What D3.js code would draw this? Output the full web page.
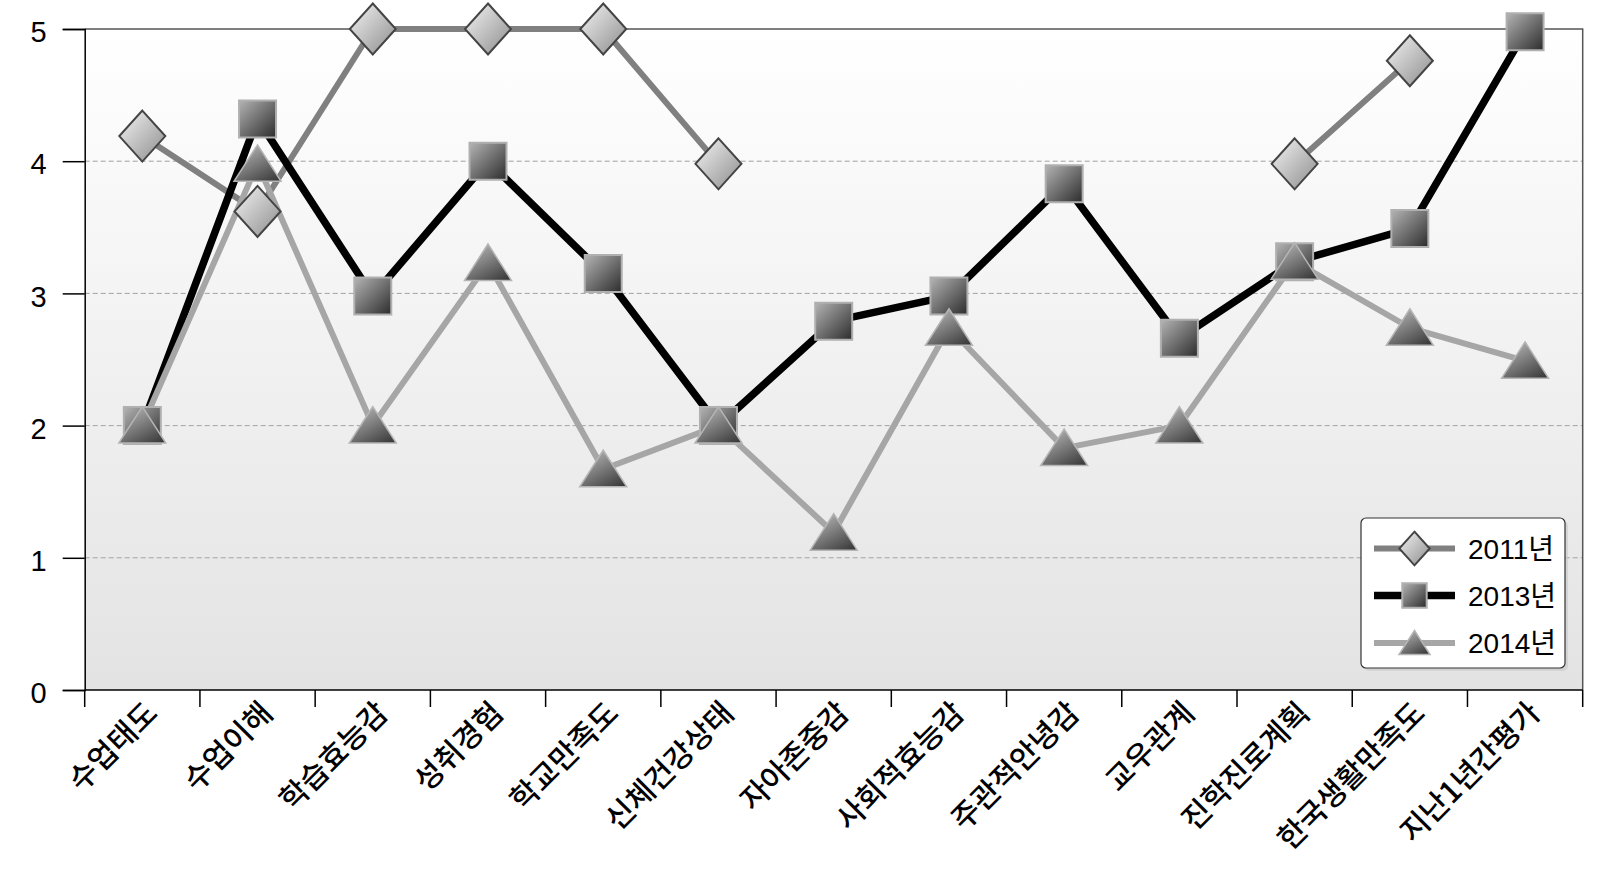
<!DOCTYPE html>
<html><head><meta charset="utf-8">
<script src="https://cdn.jsdelivr.net/npm/d3@7"></script>
<style>
html,body{margin:0;padding:0;background:#fff;}
svg{display:block;}
</style></head>
<body>
<svg id="chart" width="1606" height="886"></svg>
<script>
const categories = ["수업태도","수업이해","학습효능감","성취경험","학교만족도","신체건강상태","자아존중감","사회적효능감","주관적안녕감","교우관계","진학진로계획","한국생활만족도","지난1년간평가"];
const s2011 = [4.19,3.62,5.0,5.0,5.0,3.98,null,null,null,null,3.98,4.76,null];
const s2013 = [2.0,4.32,2.98,4.0,3.15,2.0,2.79,2.98,3.83,2.66,3.24,3.49,4.98];
const s2014 = [2.0,3.98,2.0,3.23,1.67,2.0,1.19,2.74,1.83,2.0,3.24,2.74,2.49];
const seriesNames = ["2011년","2013년","2014년"];
const yTicks = [0,1,2,3,4,5];

const svg = d3.select("#chart");
const L = 84.7, R = 1582.7, T = 29, B = 690;
const x = d3.scaleBand().domain(categories).range([L, R]);
const y = d3.scaleLinear().domain([0, 5]).range([B, T]);

const defs = svg.append("defs");
function lg(id, x1,y1,x2,y2, stops){
  const g = defs.append("linearGradient").attr("id", id)
    .attr("x1",x1).attr("y1",y1).attr("x2",x2).attr("y2",y2);
  stops.forEach(s => g.append("stop").attr("offset", s[0]).attr("stop-color", s[1]));
}
lg("bg", 0,0,0,1, [[0,"#ffffff"],[1,"#e3e3e3"]]);
lg("gDia", 0,0,1,1, [[0,"#f4f4f4"],[1,"#8c8c8c"]]);
lg("gSq", 0,0,1,1, [[0,"#b4b4b4"],[1,"#2c2c2c"]]);
lg("gTri", 0.2,0,0.9,1, [[0,"#b8b8b8"],[1,"#383838"]]);

// plot background
svg.append("rect").attr("x", L).attr("y", T).attr("width", R - L).attr("height", B - T)
  .attr("fill", "url(#bg)");

// gridlines
svg.append("g").selectAll("line").data(yTicks.filter(t => t > 0 && t < 5)).join("line")
  .attr("x1", L).attr("x2", R).attr("y1", d => y(d)).attr("y2", d => y(d))
  .attr("stroke", "#a3a3a3").attr("stroke-width", 1).attr("stroke-dasharray", "5,3");

// frame top/right
svg.append("path").attr("d", `M${L},${y(5)}H${R}V${B}`).attr("fill","none")
  .attr("stroke","#555").attr("stroke-width",1.5);

const numFont = "'Liberation Sans Narrow', 'Liberation Sans', Arial, 'Noto Sans CJK KR', sans-serif";

// y axis
const yAxis = svg.append("g").attr("transform", `translate(${L},0)`)
  .call(d3.axisLeft(y).tickValues(yTicks).tickSize(22).tickPadding(16).tickFormat(d3.format("d")));
yAxis.select(".domain").attr("stroke","#000").attr("stroke-width",1.5);
yAxis.selectAll(".tick line").attr("stroke","#000").attr("stroke-width",1.5);
yAxis.selectAll("text").attr("font-family", numFont)
  .attr("font-size",29).attr("fill","#000").attr("dy","0.44em");

// x axis
const xAxis = svg.append("g").attr("transform", `translate(0,${B})`)
  .call(d3.axisBottom(x).tickSize(0).tickPadding(0));
xAxis.select(".domain").remove();
xAxis.selectAll("text")
  .attr("font-family","'Noto Sans CJK KR', sans-serif").attr("font-size",30)
  .attr("font-weight",500).attr("fill","#000")
  .attr("x",0).attr("y",0).attr("dy",0)
  .attr("text-anchor","end")
  .attr("transform","translate(17,25) rotate(-45)");
svg.append("line").attr("x1",L).attr("x2",R).attr("y1",B).attr("y2",B)
  .attr("stroke","#000").attr("stroke-width",1.5);
const bounds = d3.range(categories.length + 1).map(i => L + i * x.step());
svg.append("g").selectAll("line").data(bounds).join("line")
  .attr("x1", d => d).attr("x2", d => d).attr("y1", B).attr("y2", B + 17)
  .attr("stroke","#000").attr("stroke-width",1.5);

// series
const series = [
  {name: seriesNames[0], values: s2011, color: "#808080", width: 6, marker: "diamond"},
  {name: seriesNames[1], values: s2013, color: "#000000", width: 7.5, marker: "square"},
  {name: seriesNames[2], values: s2014, color: "#a6a6a6", width: 6, marker: "triangle"}
];
const cx = (d, i) => x(categories[i]) + x.bandwidth() / 2;
const line = d3.line().defined(d => d != null).x((d, i) => cx(d, i)).y(d => y(d));

series.forEach(s => {
  svg.append("path").datum(s.values).attr("d", line).attr("fill","none")
    .attr("stroke", s.color).attr("stroke-width", s.width).attr("stroke-linejoin","round");
});

function markerPath(type, k) {
  if (type === "diamond") return `M0,${-25.5*k}L${23*k},0L0,${25.5*k}L${-23*k},0Z`;
  if (type === "square") return `M${-18.5*k},${-18.5*k}H${18.5*k}V${18.5*k}H${-18.5*k}Z`;
  return `M0,${-19*k}L${23.5*k},${17.5*k}H${-23.5*k}Z`;
}
function styleMarker(sel, type) {
  if (type === "diamond") sel.attr("fill","url(#gDia)").attr("stroke","#444").attr("stroke-width",2);
  else if (type === "square") sel.attr("fill","url(#gSq)").attr("stroke","#b0b0b0").attr("stroke-width",2);
  else sel.attr("fill","url(#gTri)").attr("stroke","#b5b5b5").attr("stroke-width",1.5);
}
series.forEach(s => {
  const pts = s.values.map((v, i) => ({v, i})).filter(p => p.v != null);
  svg.append("g").selectAll("path").data(pts).join("path")
    .attr("transform", p => `translate(${cx(p.v, p.i)},${y(p.v)})`)
    .attr("d", markerPath(s.marker, 1))
    .call(sel => styleMarker(sel, s.marker));
});

// legend
const lgX = 1361, lgY = 518, lgW = 204, lgH = 150;
svg.append("rect").attr("x", lgX + 3).attr("y", lgY + 3).attr("width", lgW).attr("height", lgH)
  .attr("rx", 5).attr("fill", "#c8c8c8").attr("opacity", 0.6);
svg.append("rect").attr("x", lgX).attr("y", lgY).attr("width", lgW).attr("height", lgH)
  .attr("rx", 5).attr("fill", "#fff").attr("stroke", "#333").attr("stroke-width", 1.2);
const rowY = [548.5, 595.5, 643];
series.forEach((s, i) => {
  const g = svg.append("g").attr("transform", `translate(0,${rowY[i]})`);
  g.append("line").attr("x1", 1374).attr("x2", 1455).attr("y1", 0).attr("y2", 0)
    .attr("stroke", s.color).attr("stroke-width", s.width);
  g.append("path").attr("transform", "translate(1414.5,0)")
    .attr("d", markerPath(s.marker, 0.66)).call(sel => styleMarker(sel, s.marker));
  g.append("text").attr("x", 1468).attr("y", 0).attr("dy", "0.36em")
    .attr("font-family", numFont)
    .attr("font-size", 28).attr("fill", "#000").text(s.name);
});
</script>
</body></html>
